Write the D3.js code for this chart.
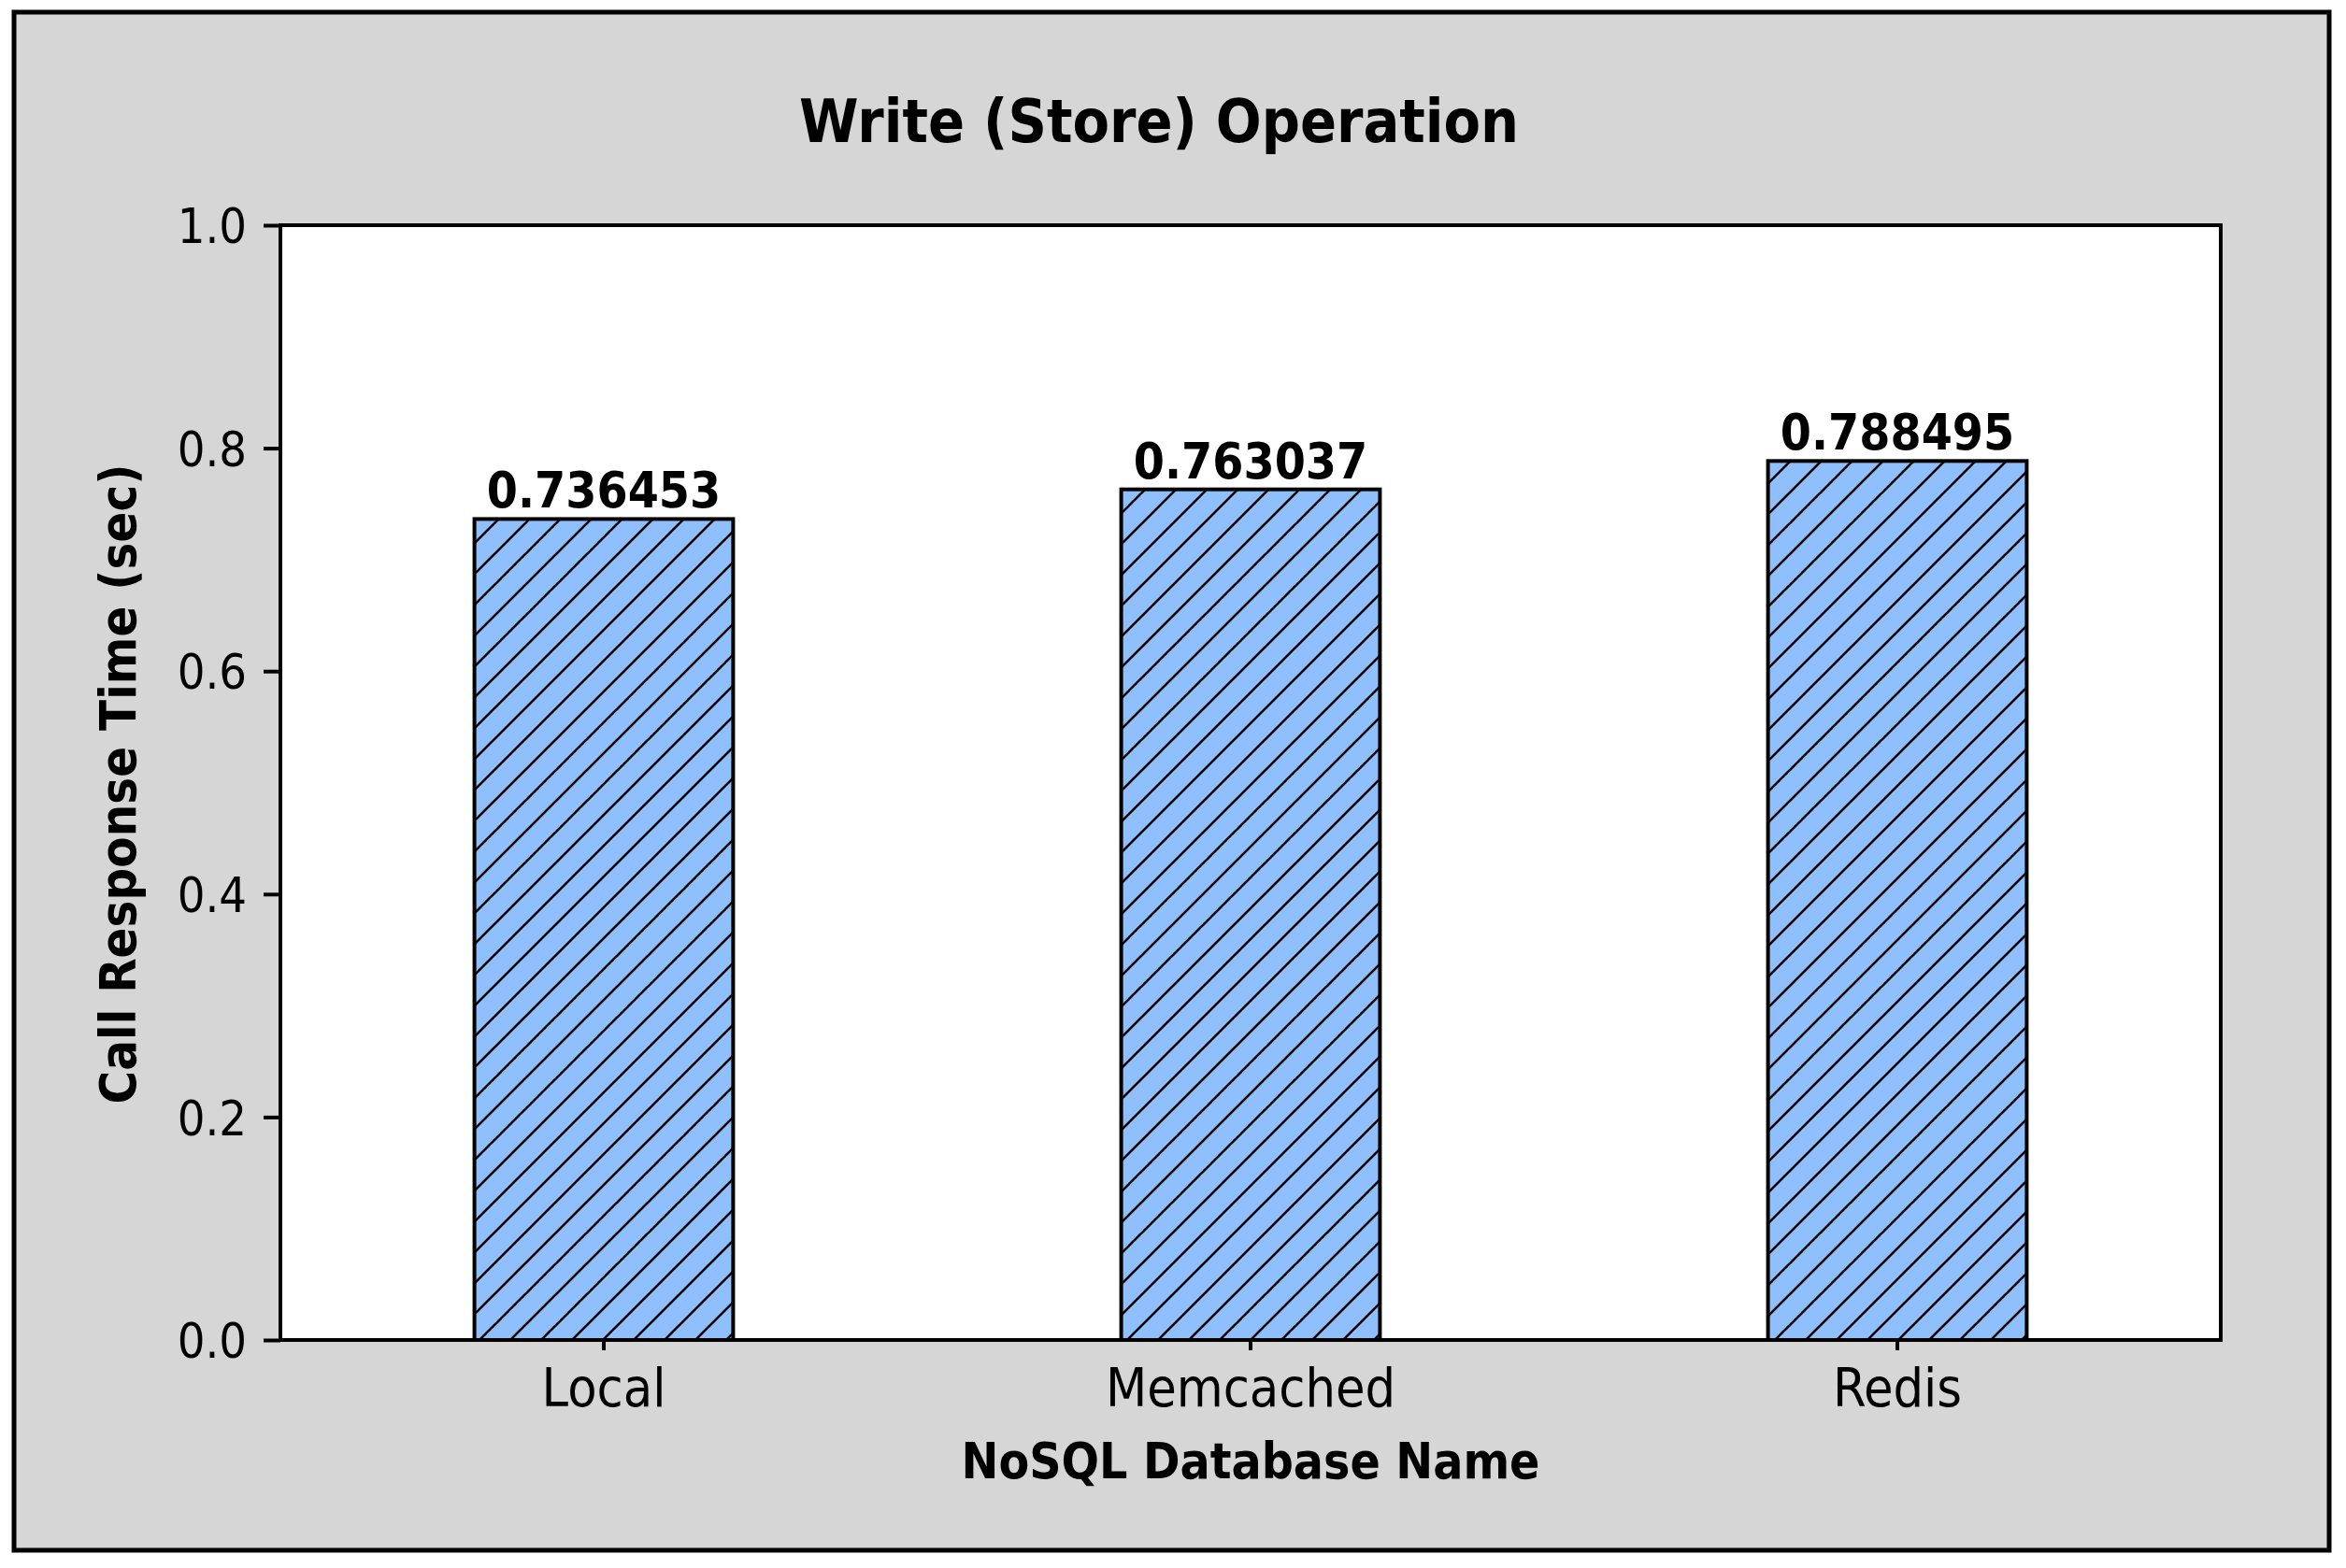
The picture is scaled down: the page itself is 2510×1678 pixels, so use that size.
<!DOCTYPE html>
<html>
<head>
<meta charset="utf-8">
<script src="https://cdn.jsdelivr.net/npm/d3@7"></script>
<style>
  html, body { margin: 0; padding: 0; background: #ffffff; }
  svg text { font-family: "DejaVu Sans Condensed", "DejaVu Sans", sans-serif; font-stretch: condensed; fill: #000; }
</style>
</head>
<body>
<svg id="chart" width="2510" height="1678"></svg>
<script>
const categories = ["Local", "Memcached", "Redis"];
const values = [0.736453, 0.763037, 0.788495];
const valueLabels = ["0.736453", "0.763037", "0.788495"];
const yTicks = [0.0, 0.2, 0.4, 0.6, 0.8, 1.0];
const titleText = "Write (Store) Operation";
const xTitle = "NoSQL Database Name";
const yTitle = "Call Response Time (sec)";

const svg = d3.select("#chart");
const W = 2510, H = 1678;
const plot = { left: 300, top: 241, right: 2376, bottom: 1434 };

// outer frame
svg.append("rect").attr("x", 15).attr("y", 13).attr("width", 2477).attr("height", 1646)
  .attr("fill", "#d6d6d6").attr("stroke", "#000").attr("stroke-width", 5);

// hatch pattern
const defs = svg.append("defs");
const pat = defs.append("pattern").attr("id", "hatch").attr("patternUnits", "userSpaceOnUse")
  .attr("width", 33).attr("height", 33);
pat.append("rect").attr("width", 33).attr("height", 33).attr("fill", "#8fbffc");
pat.append("path").attr("d", "M0,33 L33,0 M-8,8 L8,-8 M25,41 L41,25")
  .attr("stroke", "#000").attr("stroke-width", 2.6).attr("fill", "none");

// plot background
svg.append("rect").attr("x", plot.left).attr("y", plot.top)
  .attr("width", plot.right - plot.left).attr("height", plot.bottom - plot.top)
  .attr("fill", "#ffffff");

const x = d3.scaleBand().domain(categories).range([plot.left, plot.right])
  .paddingInner(0.6).paddingOuter(0.3);
const y = d3.scaleLinear().domain([0, 1]).range([plot.bottom, plot.top]);

// bars
svg.append("g").selectAll("rect").data(values).join("rect")
  .attr("x", (d, i) => x(categories[i]))
  .attr("y", d => y(d))
  .attr("width", x.bandwidth())
  .attr("height", d => y(0) - y(d))
  .attr("fill", "url(#hatch)")
  .attr("stroke", "#000").attr("stroke-width", 4);

// value labels
svg.append("g").selectAll("text").data(values).join("text")
  .attr("x", (d, i) => x(categories[i]) + x.bandwidth() / 2)
  .attr("y", d => y(d) - 12)
  .attr("text-anchor", "middle")
  .attr("font-weight", "bold")
  .attr("font-size", 53)
  .text((d, i) => valueLabels[i]);

// plot frame
svg.append("rect").attr("x", plot.left).attr("y", plot.top)
  .attr("width", plot.right - plot.left).attr("height", plot.bottom - plot.top)
  .attr("fill", "none").attr("stroke", "#000").attr("stroke-width", 4);

// y axis
const yAxis = svg.append("g").attr("transform", `translate(${plot.left},0)`)
  .call(d3.axisLeft(y).tickValues(yTicks).tickFormat(d3.format(".1f")).tickSize(18).tickPadding(18));
yAxis.select(".domain").remove();
yAxis.selectAll(".tick line").attr("stroke", "#000").attr("stroke-width", 4);
yAxis.selectAll(".tick text").attr("font-size", 52).attr("font-family", null).attr("dy", "0.36em");

// x axis
const xAxis = svg.append("g").attr("transform", `translate(0,${plot.bottom})`)
  .call(d3.axisBottom(x).tickSize(11).tickPadding(20));
xAxis.select(".domain").remove();
xAxis.selectAll(".tick line").attr("stroke", "#000").attr("stroke-width", 4);
xAxis.selectAll(".tick text").attr("font-size", 57).attr("font-family", null).attr("dy", "0.71em");

// titles
svg.append("text").attr("x", 1240).attr("y", 152).attr("text-anchor", "middle")
  .attr("font-weight", "bold").attr("font-size", 64).text(titleText);
svg.append("text").attr("x", (plot.left + plot.right) / 2).attr("y", 1582).attr("text-anchor", "middle")
  .attr("font-weight", "bold").attr("font-size", 53).text(xTitle);
svg.append("text").attr("transform", "translate(145,839) rotate(-90)").attr("text-anchor", "middle")
  .attr("font-weight", "bold").attr("font-size", 54).text(yTitle);
</script>
</body>
</html>
